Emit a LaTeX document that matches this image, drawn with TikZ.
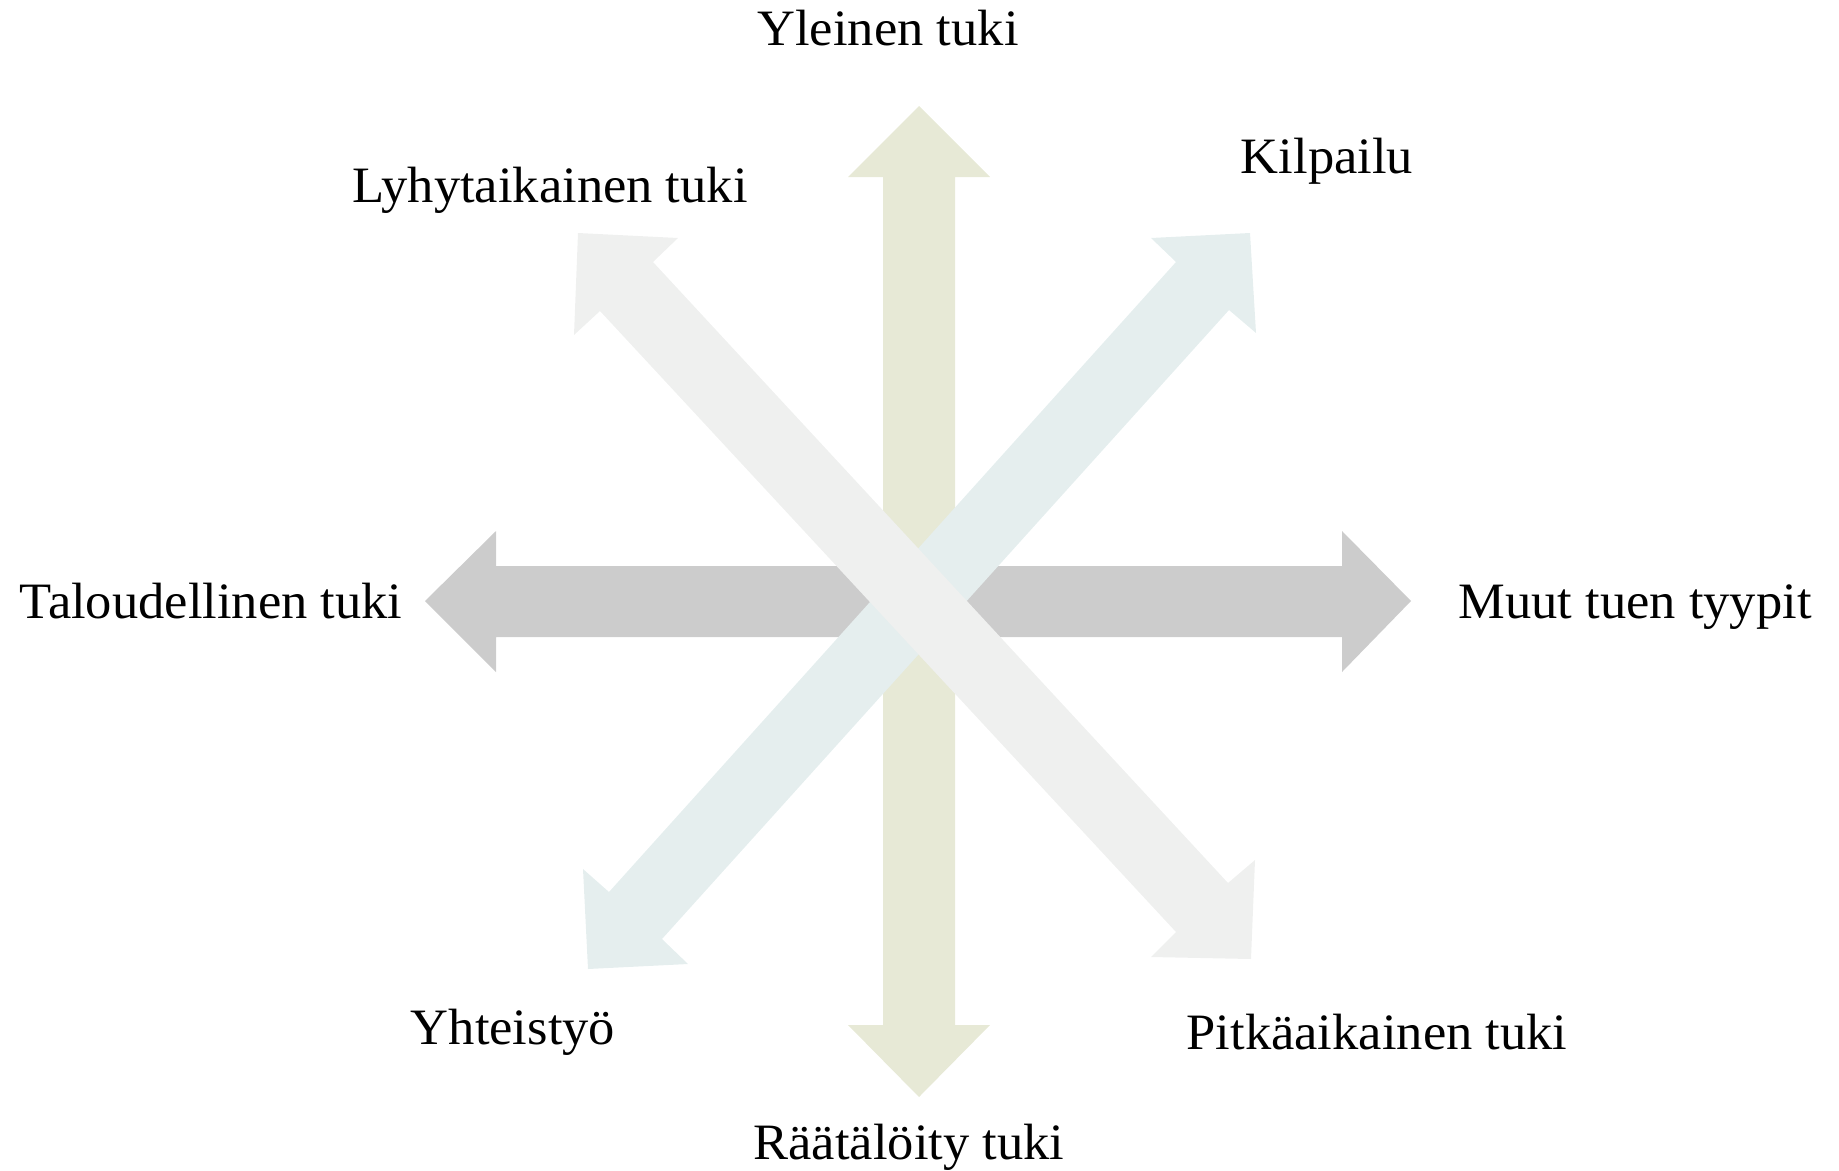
\documentclass[tikz,border=0pt]{standalone}
\usepackage{fontspec}
\setmainfont[FakeStretch=1.03]{Liberation Serif}
\usetikzlibrary{positioning}

\definecolor{olive}{HTML}{E7E9D6}
\definecolor{greyarrow}{HTML}{CCCCCC}
\definecolor{bluearrow}{HTML}{E5EEEE}
\definecolor{palearrow}{HTML}{EFF0EF}

\tikzset{
  label/.style={anchor=base, inner sep=0pt, font=\fontsize{51}{61}\selectfont},
}

\begin{document}
\begin{tikzpicture}[x=1pt, y=-1pt]
  \useasboundingbox (0,0) rectangle (1839,1170);

  % vertical arrow
  \fill[olive] (919,106) -- (990,177) -- (955,177) -- (955,1025) -- (990,1025)
    -- (919,1097) -- (848,1025) -- (883,1025) -- (883,177) -- (848,177) -- cycle;

  % horizontal arrow
  \fill[greyarrow] (425,601) -- (496,531) -- (496,566) -- (1342,566) -- (1342,531)
    -- (1411,601) -- (1342,672) -- (1342,637) -- (496,637) -- (496,672) -- cycle;

  % diagonal arrows
  \fill[bluearrow] (1250,233) -- (1256,333) -- (1229,310) -- (662,939) -- (688,964)
    -- (588,969) -- (583,869) -- (609,892) -- (1176,262) -- (1151,238) -- cycle;
  \fill[palearrow] (578,233) -- (678,238) -- (653,262) -- (1228,883) -- (1255,860)
    -- (1251,959) -- (1151,957) -- (1176,932) -- (600,311) -- (574,335) -- cycle;

  % labels
  \node[label] (yleinen)  at (888,45)   {Yleinen tuki};
  \node[label] (lyhyt)    at (550,202)  {Lyhytaikainen tuki};
  \node[label] (kilpailu) at (1327,173) {Kilpailu};
  \node[label] (talous)   at (211,618)  {Taloudellinen tuki};
  \node[label] (muut)     at (1635,618) {Muut tuen tyypit};
  \node[label] (yhteis)   at (513,1044) {Yhteistyö};
  \node[label] (pitka)    at (1377,1049) {Pitkäaikainen tuki};
  \node[label] (raatal)   at (909,1159) {Räätälöity tuki};
\end{tikzpicture}
\end{document}
